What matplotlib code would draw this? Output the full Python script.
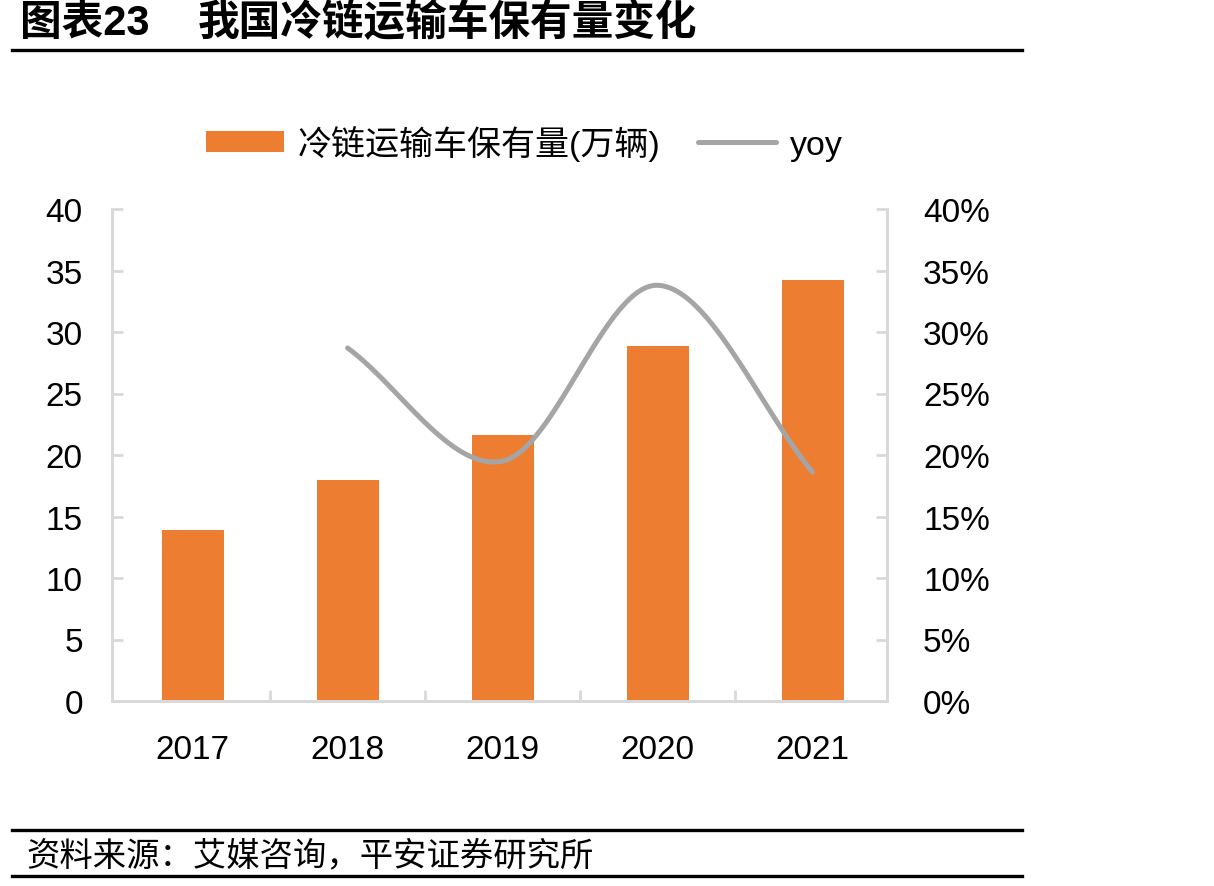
import numpy as np
import matplotlib
matplotlib.use("Agg")
import matplotlib.pyplot as plt
from matplotlib.lines import Line2D
from matplotlib.patches import Patch

plt.rcParams['font.family'] = ['Liberation Sans', 'Noto Sans CJK SC', 'DejaVu Sans']

years = ['2017', '2018', '2019', '2020', '2021']
fleet = [13.9, 18.0, 21.6, 28.9, 34.2]          # 万辆
yoy_years = ['2018', '2019', '2020', '2021']
yoy = [28.7, 19.5, 33.8, 18.6]                  # %

BAR_COLOR = '#ED7D31'
LINE_COLOR = '#A5A5A5'
SPINE_COLOR = '#D9D9D9'


def catmull_rom(x, y, n=40):
    # smooth curve through the points, like Excel's smoothed line
    x = np.asarray(x, float)
    y = np.asarray(y, float)
    px = np.concatenate([[2 * x[0] - x[1]], x, [2 * x[-1] - x[-2]]])
    py = np.concatenate([[2 * y[0] - y[1]], y, [2 * y[-1] - y[-2]]])
    xs, ys = [], []
    for i in range(1, len(px) - 2):
        t = np.linspace(0, 1, n)
        for p, out in ((px, xs), (py, ys)):
            p0, p1, p2, p3 = p[i - 1], p[i], p[i + 1], p[i + 2]
            out.append(0.5 * (2 * p1 + (-p0 + p2) * t
                              + (2 * p0 - 5 * p1 + 4 * p2 - p3) * t ** 2
                              + (-p0 + 3 * p1 - 3 * p2 + p3) * t ** 3))
    return np.concatenate(xs), np.concatenate(ys)


fig = plt.figure(figsize=(12.14, 8.87), dpi=100)
# axes box: x 112..887 px, y 210..702 px
ax = fig.add_axes([112 / 1214, 1 - 702 / 887, 775 / 1214, 492 / 887])
ax2 = ax.twinx()

x = np.arange(len(years))
ax.bar(x, fleet, width=0.4, color=BAR_COLOR, zorder=2)
ax.set_xlim(-0.52, len(years) - 0.52)
ax.set_ylim(0, 40)
ax.set_yticks(np.arange(0, 41, 5))
ax.set_xticks(x)
ax.set_xticklabels(years)
ax.set_xticks(np.arange(0.5, len(years) - 0.5, 1), minor=True)

xl = [years.index(y) for y in yoy_years]
sx, sy = catmull_rom(xl, yoy)
ax2.plot(sx, sy, color=LINE_COLOR, lw=3.6, solid_capstyle='round', zorder=3)
ax2.set_ylim(0, 40)
ax2.set_yticks(np.arange(0, 41, 5))
ax2.set_yticklabels([f'{v}%' for v in range(0, 41, 5)])

for a in (ax, ax2):
    for s in a.spines.values():
        s.set_color(SPINE_COLOR)
        s.set_linewidth(2)
    a.spines['top'].set_visible(False)
ax.tick_params(axis='y', direction='in', length=8, width=2, color=SPINE_COLOR,
               labelsize=24, pad=21)
ax2.tick_params(axis='y', direction='in', length=8, width=2, color=SPINE_COLOR,
                labelsize=24, pad=26)
ax.tick_params(axis='x', which='major', length=0, labelsize=24, pad=24)
ax.tick_params(axis='x', which='minor', direction='in', length=8, width=2,
               color=SPINE_COLOR)

handles = [Patch(facecolor=BAR_COLOR, edgecolor='none'),
           Line2D([], [], color=LINE_COLOR, lw=3.6, solid_capstyle='round')]
fig.legend(handles, ['冷链运输车保有量(万辆)', 'yoy'], loc='center',
           bbox_to_anchor=(0.4316, 0.838), ncol=2, frameon=False, fontsize=24.5,
           handlelength=2.3, handleheight=0.6, columnspacing=1.1,
           handletextpad=0.4)

fig.text(20 / 1214, 0.973, '图表23', fontsize=30, fontweight='bold',
         va='center', ha='left')
fig.text(198 / 1214, 0.973, '我国冷链运输车保有量变化', fontsize=30,
         fontweight='bold', va='center', ha='left')
fig.add_artist(Line2D([0.01, 0.842], [0.942, 0.942], color='black', lw=2.4))
fig.add_artist(Line2D([0.01, 0.842], [0.0631, 0.0631], color='black', lw=2.4))
fig.add_artist(Line2D([0.01, 0.842], [0.0116, 0.0116], color='black', lw=2.4))
fig.text(26 / 1214, 0.034, '资料来源：艾媒咨询，平安证券研究所', fontsize=24,
         style='italic', va='center', ha='left')

fig.savefig('out.png', dpi=100)
